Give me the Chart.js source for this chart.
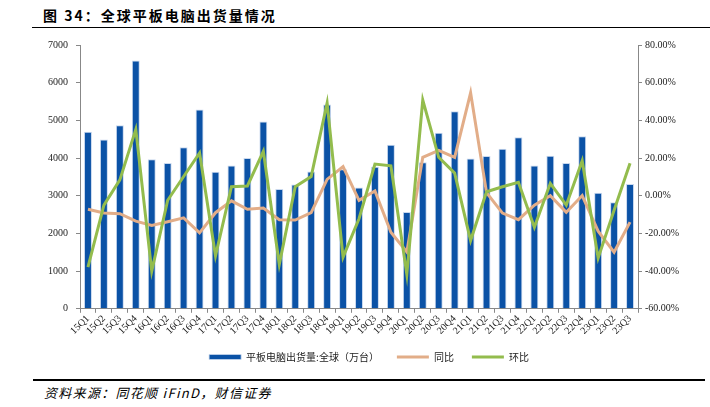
<!DOCTYPE html>
<html>
<head>
<meta charset="utf-8">
<script src="https://cdn.jsdelivr.net/npm/chart.js@4"></script>
<style>
  body { margin: 0; width: 710px; height: 407px; background: #fff; position: relative; overflow: hidden; }
  #title { position: absolute; left: 43px; top: 5px; font-family: "Noto Sans CJK SC", sans-serif; font-weight: bold; font-size: 14px; letter-spacing: 2px; color: #000; }
  #topRule { position: absolute; left: 32px; top: 27px; width: 678px; height: 1px; background: #000; }
  #bottomRule { position: absolute; left: 33px; top: 379px; width: 672px; height: 2px; background: #000; }
  #source { position: absolute; left: 44px; top: 383px; font-family: "Noto Sans CJK SC", sans-serif; font-style: italic; font-size: 13px; letter-spacing: 1.3px; color: #000; }
  #wrap { position: absolute; left: 0; top: 30px; width: 710px; height: 342px; }
</style>
</head>
<body>
<div id="title">图 34：全球平板电脑出货量情况</div>
<div id="topRule"></div>
<div id="wrap"><canvas id="myChart"></canvas></div>
<div id="bottomRule"></div>
<div id="source">资料来源：同花顺 iFinD，财信证券</div>
<script>
const quarters = ['15Q1','15Q2','15Q3','15Q4','16Q1','16Q2','16Q3','16Q4','17Q1','17Q2','17Q3','17Q4',
  '18Q1','18Q2','18Q3','18Q4','19Q1','19Q2','19Q3','19Q4','20Q1','20Q2','20Q3','20Q4',
  '21Q1','21Q2','21Q3','21Q4','22Q1','22Q2','22Q3','22Q4','23Q1','23Q2','23Q3'];

// 平板电脑出货量:全球（万台）
const shipments = [4700, 4490, 4870, 6590, 3970, 3870, 4290, 5290, 3635, 3800, 4000, 4970,
  3180, 3300, 3640, 5420, 3700, 3220, 3770, 4350, 2570, 3890, 4670, 5240,
  3990, 4055, 4250, 4550, 3800, 4060, 3870, 4580, 3080, 2830, 3310];

// 同比 (%)
const yoy = [-7.2, -9.2, -9.5, -13.5, -15.8, -13.8, -11.7, -19.7, -9.0, -2.7, -7.2, -6.5,
  -12.7, -12.9, -9.0, 8.7, 15.5, -2.4, 2.6, -19.4, -29.8, 20.4, 24.1, 20.4,
  54.6, 1.6, -9.2, -12.7, -5.0, 0.0, -8.8, 0.1, -18.8, -30.0, -14.0];

// 环比 (%)
const qoq = [-37.9, -5.0, 8.4, 35.2, -40.0, -2.4, 10.2, 22.7, -31.9, 4.8, 5.2, 23.6,
  -36.4, 4.8, 10.2, 49.2, -32.6, -12.2, 16.8, 15.9, -41.7, 50.8, 20.4, 12.0,
  -23.8, 2.1, 4.8, 7.1, -16.7, 6.6, -5.0, 18.6, -33.1, -7.7, 17.3];

const leftTicks = [0, 1000, 2000, 3000, 4000, 5000, 6000, 7000];
const rightTicks = [-60, -40, -20, 0, 20, 40, 60, 80];

const blue = '#0b52a6';
const orange = '#e2ad88';
const green = '#93bc4d';
const axisGrey = '#888';
const tickFont = { family: '"Liberation Serif", "Times New Roman", serif', size: 10 };

// nudge the legend a little to the right, like the original
const legendShift = {
  id: 'legendShift',
  afterLayout(chart) {
    chart.legend.left += 14;
    chart.legend.right += 14;
  }
};

function mainEvent() {
  const target = document.querySelector('#myChart');
  const chart = new Chart(target, {
    data: {
      labels: quarters,
      datasets: [
        { type: 'line', label: '同比', data: yoy, yAxisID: 'y1', borderColor: orange, backgroundColor: orange,
          borderWidth: 3, pointRadius: 0, tension: 0, order: 1, pointStyle: 'line' },
        { type: 'line', label: '环比', data: qoq, yAxisID: 'y1', borderColor: green, backgroundColor: green,
          borderWidth: 3, pointRadius: 0, tension: 0, order: 0, pointStyle: 'line' },
        { type: 'bar', label: '平板电脑出货量:全球（万台）', data: shipments, yAxisID: 'y',
          backgroundColor: blue, borderColor: '#c9d8ee', borderWidth: { left: 1, right: 1, top: 1, bottom: 0 },
          barPercentage: 0.5, categoryPercentage: 1.0, order: 2, pointStyle: 'rect' }
      ]
    },
    plugins: [legendShift],
    options: {
      responsive: true,
      maintainAspectRatio: false,
      animation: false,
      layout: { padding: { left: 0, right: 0, top: 15, bottom: 0 } },
      plugins: {
        tooltip: { enabled: false },
        legend: {
          position: 'bottom',
          labels: {
            usePointStyle: true,
            pointStyleWidth: 32,
            boxHeight: 5,
            padding: 18,
            color: '#222',
            font: { family: '"Noto Sans CJK SC", sans-serif', size: 10 },
            sort: (a, b) => [2, 0, 1].indexOf(a.datasetIndex) - [2, 0, 1].indexOf(b.datasetIndex)
          }
        }
      },
      scales: {
        x: {
          afterFit: (axis) => { axis.height -= 3; },
          grid: { display: true, drawOnChartArea: false, drawTicks: true, tickLength: 4, color: axisGrey, offset: true },
          border: { color: axisGrey },
          ticks: { color: '#222', font: tickFont, maxRotation: 45, minRotation: 45, autoSkip: false, padding: 0 }
        },
        y: {
          position: 'left',
          min: 0, max: 7000,
          afterBuildTicks: (axis) => { axis.ticks = leftTicks.map((v) => ({ value: v })); },
          afterFit: (axis) => { axis.width = 80; },
          grid: { display: true, drawOnChartArea: false, tickLength: 4, color: axisGrey },
          border: { color: axisGrey },
          ticks: { color: '#222', font: tickFont, padding: 8, callback: (v) => String(v) }
        },
        y1: {
          position: 'right',
          min: -60, max: 80,
          afterBuildTicks: (axis) => { axis.ticks = rightTicks.map((v) => ({ value: v })); },
          afterFit: (axis) => { axis.width = 72; },
          grid: { display: true, drawOnChartArea: false, tickLength: 4, color: axisGrey },
          border: { color: axisGrey },
          ticks: { color: '#222', font: tickFont, padding: 3, callback: (v) => v.toFixed(2) + '%' }
        }
      }
    }
  });
  return chart;
}

document.addEventListener('DOMContentLoaded', () => mainEvent());
</script>
</body>
</html>
